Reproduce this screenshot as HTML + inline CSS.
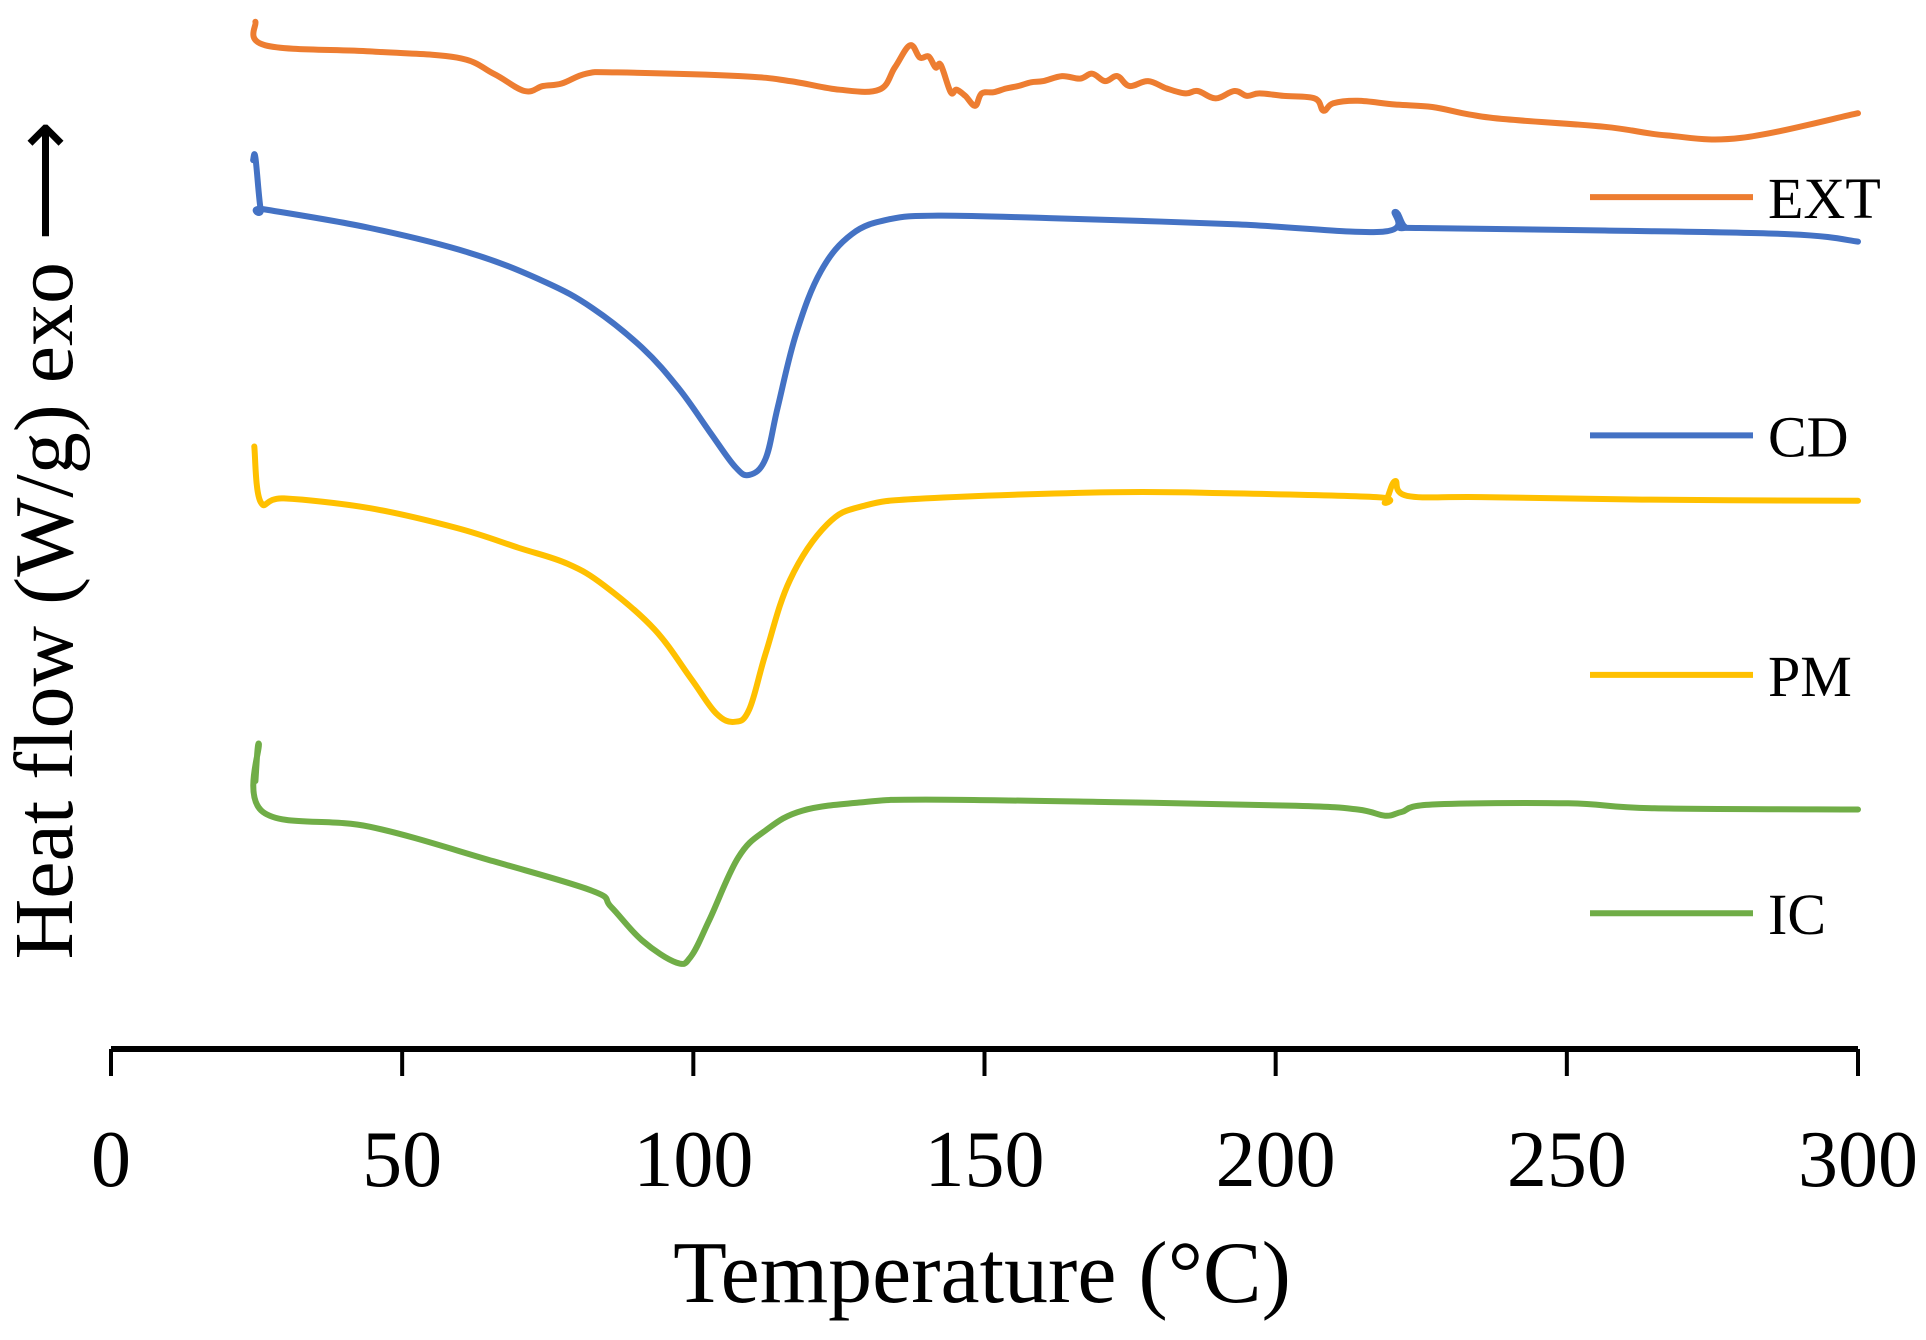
<!DOCTYPE html>
<html><head><meta charset="utf-8"><style>
html,body{margin:0;padding:0;background:#fff;}
svg{display:block;font-family:"Liberation Serif",serif;}
</style></head><body>
<svg id="chart" width="1926" height="1340" viewBox="0 0 1926 1340">
<g id="axis"></g>
<g id="series"></g>
<g id="legend"></g>
<text x="982" y="1302" font-size="88" text-anchor="middle">Temperature (°C)</text>
<text transform="translate(72,540) rotate(-90)" font-size="84" text-anchor="middle">Heat flow (W/g)  exo ⟶</text>
</svg>
<script>
const xTicks = [0,50,100,150,200,250,300];
const seriesNames = ["EXT","CD","PM","IC"];
const seriesColors = ["#ED7D31","#4472C4","#FFC000","#70AD47"];
const extT = [24.8,26.5,44.5,59.4,65.7,71.0,74.2,77.4,81.6,86.9,108.1,116.6,125.1,131.9,134.6,137.2,138.9,140.4,141.6,142.5,144.2,145.2,146.7,148.4,149.5,151.6,153.7,155.8,158.0,160.1,163.3,166.4,168.5,170.7,172.8,174.9,178.1,181.3,184.5,186.6,189.7,192.9,195.1,197.2,201.4,206.7,208.2,209.9,214.1,220.5,226.9,233.2,239.6,256.5,267.1,279.9,300];
const extV = [8.32,8.13,8.08,8.03,7.90,7.76,7.80,7.82,7.90,7.91,7.88,7.84,7.77,7.77,7.95,8.13,8.03,8.04,7.95,7.97,7.75,7.77,7.72,7.64,7.74,7.75,7.78,7.80,7.83,7.84,7.88,7.86,7.90,7.84,7.88,7.80,7.84,7.78,7.74,7.76,7.70,7.76,7.72,7.74,7.72,7.70,7.60,7.66,7.68,7.65,7.63,7.57,7.53,7.47,7.40,7.38,7.58];
const cdT = [24.4,24.8,25.7,26.5,44.5,61.5,74.2,82.7,91.2,97.5,102.8,107.1,109.6,112.4,114.5,117.7,121.9,127.2,133.6,142.0,161.1,192.9,218.4,220.5,222.2,224.7,256.5,288.3,300];
const cdV = [7.20,7.22,6.80,6.80,6.65,6.45,6.22,6.00,5.68,5.35,5.00,4.72,4.65,4.78,5.20,5.80,6.30,6.60,6.72,6.75,6.73,6.68,6.62,6.78,6.66,6.65,6.63,6.60,6.54];
const pmT = [24.6,25.7,29.7,44.5,59.4,70.0,78.4,84.8,93.3,99.6,103.9,107.1,109.6,112.4,116.6,123.0,129.3,139.9,171.7,192.9,217.3,218.8,220.5,222.6,235.3,262.9,300];
const pmV = [4.88,4.43,4.46,4.38,4.22,4.06,3.93,3.75,3.40,3.00,2.72,2.65,2.75,3.20,3.80,4.25,4.40,4.46,4.51,4.50,4.47,4.43,4.60,4.48,4.47,4.45,4.44];
const icT = [24.8,25.4,26.1,44.5,65.7,82.7,85.9,91.2,97.1,99.6,102.8,107.7,112.4,118.7,129.3,139.9,171.7,203.5,214.1,218.8,221.6,226.9,250.2,265.0,300];
const icV = [2.17,2.47,1.92,1.80,1.52,1.28,1.15,0.88,0.70,0.75,1.05,1.55,1.77,1.93,2.00,2.02,2.00,1.97,1.94,1.89,1.92,1.98,1.99,1.95,1.94];
const legendV = [6.90,4.97,3.03,1.10];

const NS="http://www.w3.org/2000/svg";
const X0=111,X1=1858,AXY=1049;
function xs(t){return X0+t*(X1-X0)/300;}
function ys(v){return AXY-v*123.46;}
function mk(tag,attrs,parent){const e=document.createElementNS(NS,tag);for(const k in attrs)e.setAttribute(k,attrs[k]);parent.appendChild(e);return e;}
function smoothPath(p){
  let d='M'+p[0][0].toFixed(1)+','+p[0][1].toFixed(1);
  for(let i=0;i<p.length-1;i++){
    const p0=p[i-1]||p[i],p1=p[i],p2=p[i+1],p3=p[i+2]||p2;
    const t=0.18;
    const c1=[p1[0]+(p2[0]-p0[0])*t,p1[1]+(p2[1]-p0[1])*t];
    const c2=[p2[0]-(p3[0]-p1[0])*t,p2[1]-(p3[1]-p1[1])*t];
    d+=' C'+c1[0].toFixed(1)+','+c1[1].toFixed(1)+' '+c2[0].toFixed(1)+','+c2[1].toFixed(1)+' '+p2[0].toFixed(1)+','+p2[1].toFixed(1);
  }
  return d;
}
const ax=document.getElementById('axis');
const axl=mk('line',{x1:X0,x2:X1,y1:AXY,y2:AXY,stroke:'#000','stroke-width':6},ax);


xTicks.forEach(t=>{
  const tk=mk('line',{x1:xs(t),x2:xs(t),y1:AXY,y2:AXY+27,stroke:'#000','stroke-width':4},ax);
  
  
  const tl=mk('text',{x:xs(t),y:1186,'font-size':80,'text-anchor':'middle'},ax);
  tl.textContent=t;
  
  
});
const sg=document.getElementById('series');
const data=[[extT,extV],[cdT,cdV],[pmT,pmV],[icT,icV]];
data.forEach((d,i)=>{
  const p=d[0].map((t,j)=>[xs(t),ys(d[1][j])]);
  const pl=mk('path',{d:smoothPath(p),fill:'none',stroke:seriesColors[i],'stroke-width':6,'stroke-linejoin':'round','stroke-linecap':'round'},sg);
  
  
});
const lg=document.getElementById('legend');
seriesNames.forEach((n,i)=>{
  const y=ys(legendV[i]);
  const l=mk('line',{x1:1590,x2:1753,y1:y,y2:y,stroke:seriesColors[i],'stroke-width':6},lg);
  
  
  const tx=mk('text',{x:1768,y:y+21,'font-size':58},lg);
  tx.textContent=n;
  
  
});
</script>
</body></html>
